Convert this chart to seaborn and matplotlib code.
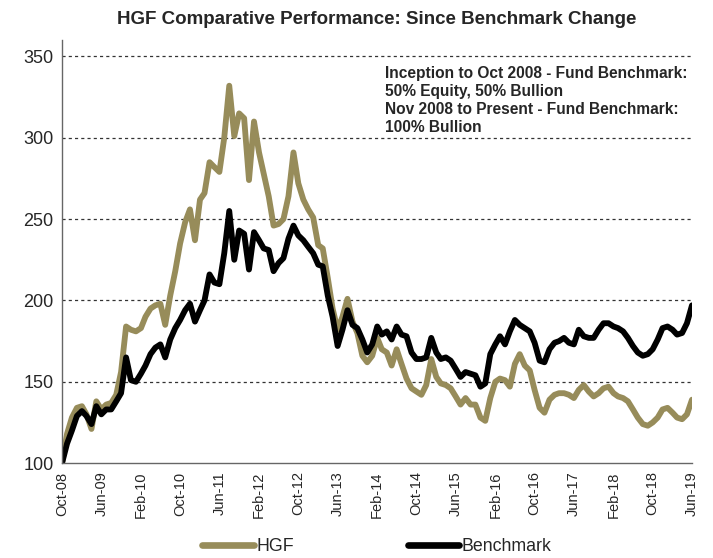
import numpy as np
import pandas as pd
import matplotlib
matplotlib.use("Agg")
import matplotlib.pyplot as plt
import matplotlib.dates as mdates
import seaborn as sns

# ── data (monthly index, Oct-08 = 100) ───────────────────────────────────────
start_month = "2008-10-01"

hgf = [100, 118, 128, 134, 135, 130, 121, 138, 133, 136,
       137, 142, 156, 184, 182, 181, 183, 190, 195, 197,
       198, 185, 203, 218, 235, 248, 256, 237, 262, 266,
       285, 282, 279, 300, 332, 301, 315, 312, 274, 310,
       291, 278, 264, 246, 247, 250, 264, 291, 272, 262,
       256, 251, 234, 232, 214, 195, 182, 190, 201, 187,
       180, 166, 162, 166, 177, 170, 168, 160, 170, 161,
       152, 146, 144, 142, 148, 164, 153, 149, 148, 146,
       141, 136, 140, 136, 136, 128, 126, 140, 150, 152,
       151, 147, 161, 167, 160, 157, 145, 134, 131, 139,
       142, 143, 143, 142, 140, 145, 148, 144, 141, 143,
       146, 147, 143, 141, 140, 138, 133, 128, 124, 123,
       125, 128, 133, 134, 131, 128, 127, 130, 139]

benchmark = [100, 112, 120, 129, 132, 129, 124, 135, 130, 133,
             133, 138, 143, 165, 151, 150, 155, 160, 167, 171,
             173, 165, 176, 183, 188, 194, 198, 187, 194, 200,
             216, 211, 210, 229, 255, 225, 243, 241, 219, 242,
             237, 232, 231, 218, 223, 226, 238, 246, 240, 237,
             233, 229, 222, 221, 203, 190, 172, 182, 194, 185,
             183, 176, 168, 173, 184, 179, 181, 176, 184, 179,
             178, 168, 164, 164, 165, 177, 168, 164, 165, 163,
             158, 153, 156, 155, 154, 147, 149, 167, 173, 178,
             173, 181, 188, 185, 183, 181, 174, 163, 162, 170,
             174, 175, 177, 174, 173, 182, 178, 177, 177, 182,
             186, 186, 184, 183, 181, 177, 172, 168, 166, 167,
             170, 176, 183, 184, 182, 179, 180, 186, 197]

series_names = ["HGF", "Benchmark"]
series_colors = ["#978C5A", "#000000"]

note_lines = ["Inception to Oct 2008 - Fund Benchmark:",
              "50% Equity, 50% Bullion",
              "Nov 2008 to Present - Fund Benchmark:",
              "100% Bullion"]

# ── build frame ──────────────────────────────────────────────────────────────
dates = pd.date_range(start_month, periods=len(hgf), freq="MS")
df = pd.DataFrame({"date": dates, "HGF": hgf, "Benchmark": benchmark})
long_df = df.melt(id_vars="date", var_name="series", value_name="value")

sns.set_style("white")
plt.rcParams["font.family"] = ["Liberation Sans", "DejaVu Sans"]

fig = plt.figure(figsize=(7.13, 5.58), dpi=100)
ax = fig.add_axes([0.087, 0.170, 0.8835, 0.758])

sns.lineplot(data=long_df, x="date", y="value", hue="series",
             hue_order=series_names, palette=series_colors,
             linewidth=4.2, legend=False, ax=ax)

# ── axes styling ─────────────────────────────────────────────────────────────
ax.set_xlim(dates[0], dates[-1])
ax.set_ylim(100, 360)
ax.set_yticks([100, 150, 200, 250, 300, 350])
ax.tick_params(axis="y", labelsize=13, length=0, pad=6)

ax.set_xticks(dates[::8])
ax.xaxis.set_major_formatter(mdates.DateFormatter("%b-%y"))
ax.tick_params(axis="x", labelsize=10.5, rotation=90, length=4,
               width=0.8, color="#555555", direction="out", pad=2)
ax.set_xlabel("")
ax.set_ylabel("")

for y in [150, 200, 250, 300, 350]:
    ax.axhline(y, color="#333333", lw=0.9, ls=(0, (2.5, 2.5)), zorder=0)

for side in ["top", "right"]:
    ax.spines[side].set_visible(False)
for side in ["left", "bottom"]:
    ax.spines[side].set_color("#666666")
    ax.spines[side].set_linewidth(1.0)

# centred over the plotting area
x_mid = (62 + 692) / 2 / 713
fig.text(x_mid, 1 - 19 / 558, "HGF Comparative Performance: Since Benchmark Change",
         ha="center", va="center", fontsize=13.5, fontweight="bold")

fig.text(385 / 713, 1 - 66 / 558, "\n".join(note_lines), ha="left", va="top",
         fontsize=11.2, fontweight="bold", linespacing=1.25)

# legend at the very bottom of the figure
handles = [plt.Line2D([], [], color=c, lw=4.8) for c in series_colors]
fig.legend(handles, series_names, loc="center", bbox_to_anchor=(x_mid, 0.021),
           ncol=2, frameon=False, fontsize=12.8, handlelength=2.9,
           handletextpad=0.15, columnspacing=6.4, borderpad=0.1)

fig.savefig("out.png", dpi=100)
